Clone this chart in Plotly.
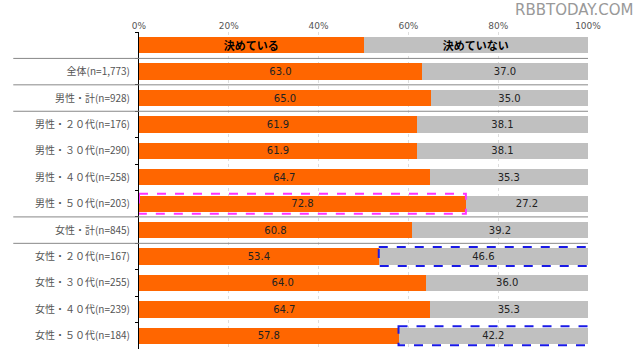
import plotly.graph_objects as go

categories = ["全体(n=1,773)", "男性・計(n=928)", "男性・２０代(n=176)", "男性・３０代(n=290)",
              "男性・４０代(n=258)", "男性・５０代(n=203)", "女性・計(n=845)", "女性・２０代(n=167)",
              "女性・３０代(n=255)", "女性・４０代(n=239)", "女性・５０代(n=184)"]
decided = [63.0, 65.0, 61.9, 61.9, 64.7, 72.8, 60.8, 53.4, 64.0, 64.7, 57.8]
undecided = [37.0, 35.0, 38.1, 38.1, 35.3, 27.2, 39.2, 46.6, 36.0, 35.3, 42.2]
legend_names = ["決めている", "決めていない"]
tick_vals = [0, 20, 40, 60, 80, 100]
tick_text = ["0%", "20%", "40%", "60%", "80%", "100%"]

HEADER = " "
ycats = [HEADER] + categories
ORANGE = "#FF6600"
GRAY = "#C0C0C0"
FONT = "Noto Sans CJK JP"

fig = go.Figure()
# header (legend) row
for val, col, name in [(50, ORANGE, legend_names[0]), (50, GRAY, legend_names[1])]:
    fig.add_trace(go.Bar(y=[HEADER], x=[val], orientation="h", marker=dict(color=col, line_width=0),
                         width=0.62, text=[f"<b>{name}</b>"], textposition="inside",
                         insidetextanchor="middle", constraintext="none",
                         textfont=dict(color="black", size=11, family=FONT),
                         hoverinfo="skip", showlegend=False))
fig.add_trace(go.Bar(y=categories, x=decided, orientation="h", name=legend_names[0],
                     marker=dict(color=ORANGE, line_width=0), width=0.62,
                     text=[f"{v:.1f}" for v in decided], textposition="inside", insidetextanchor="middle",
                     constraintext="none",
                     textfont=dict(color="#222", size=10, family="DejaVu Sans"), showlegend=False))
fig.add_trace(go.Bar(y=categories, x=undecided, orientation="h", name=legend_names[1],
                     marker=dict(color=GRAY, line_width=0), width=0.62,
                     text=[f"{v:.1f}" for v in undecided], textposition="inside", insidetextanchor="middle",
                     constraintext="none",
                     textfont=dict(color="#222", size=10, family="DejaVu Sans"), showlegend=False))

shapes = []
# separator lines after header, 全体, 男性・計, 男性・５０代, 女性・計
for idx in [0, 1, 2, 6, 7]:
    shapes.append(dict(type="line", xref="paper", yref="y", x0=-0.28, x1=1.0,
                       y0=idx + 0.5, y1=idx + 0.5, line=dict(color="#888", width=1)))
# highlight boxes
i = categories.index("男性・５０代(n=203)")
shapes.append(dict(type="rect", xref="x", yref="y", x0=0, x1=decided[i], y0=i + 1 - 0.38, y1=i + 1 + 0.38,
                   line=dict(color="#FF33FF", width=2, dash="dash")))
for name in ["女性・２０代(n=167)", "女性・５０代(n=184)"]:
    i = categories.index(name)
    shapes.append(dict(type="rect", xref="x", yref="y", x0=decided[i], x1=100.5, y0=i + 1 - 0.36, y1=i + 1 + 0.36,
                       line=dict(color="#1A1AE6", width=2, dash="dash")))

fig.update_layout(
    width=640, height=352, barmode="stack", bargap=0.38,
    paper_bgcolor="white", plot_bgcolor="white",
    margin=dict(l=139, r=52, t=32, b=3),
    font=dict(family=FONT, color="#555"),
    shapes=shapes,
    annotations=[dict(text="RBBTODAY.COM", xref="paper", yref="paper", x=1.105, y=1.07,
                      xanchor="right", yanchor="middle", showarrow=False,
                      font=dict(family="DejaVu Sans", size=15, color="#999"))],
)
fig.update_xaxes(side="top", range=[0, 100], tickvals=tick_vals, ticktext=tick_text,
                 tickfont=dict(size=9, color="#555", family="DejaVu Sans"),
                 showgrid=True, gridcolor="#ddd", griddash="dot", zeroline=False,
                 showline=False, ticks="")
fig.update_yaxes(categoryorder="array", categoryarray=ycats, autorange="reversed",
                 showline=True, linecolor="black", linewidth=1, ticks="outside", ticklen=3,
                 tickson="boundaries", tickcolor="black",
                 tickfont=dict(size=10, color="#555", family=FONT), ticklabelstandoff=6,
                 showgrid=False)

fig.write_html("out.html")
